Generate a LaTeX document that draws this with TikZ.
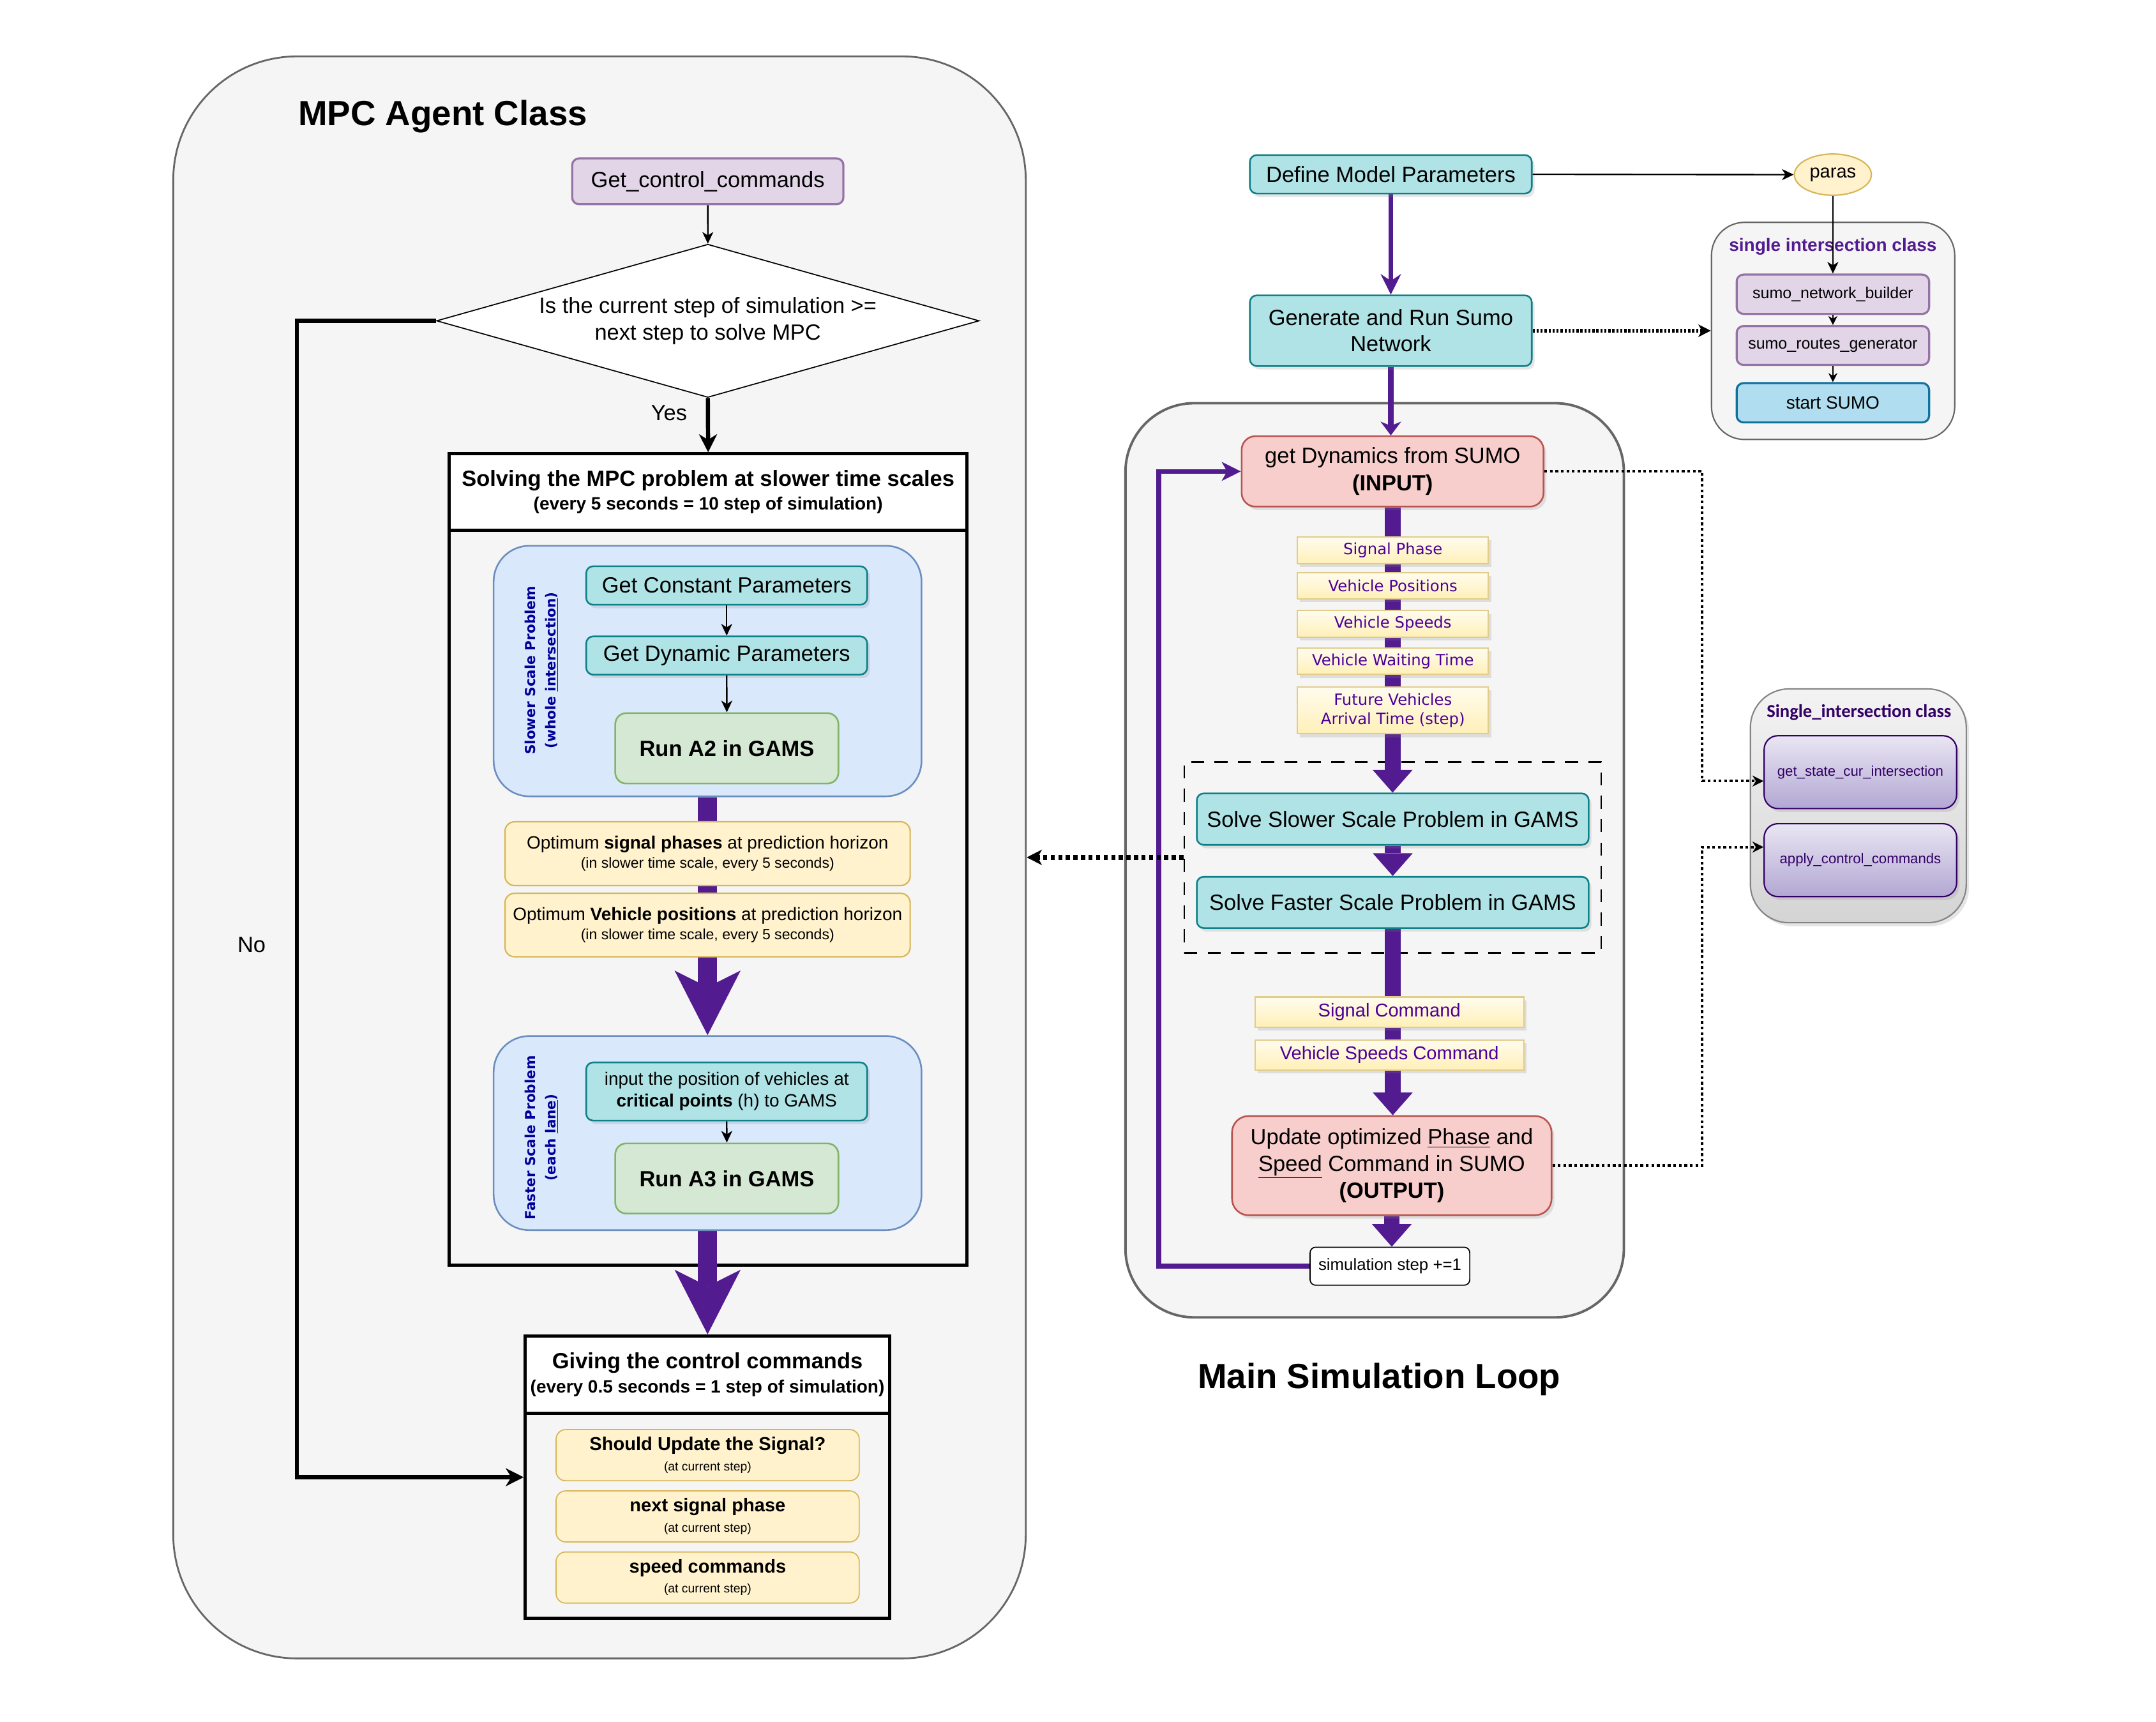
\documentclass[tikz,border=0pt]{standalone}
\usepackage{fontspec}
\setmainfont{Liberation Sans}
\newfontfamily\dejavu{DejaVu Sans}
\newfontfamily\carlito{Carlito}
\usetikzlibrary{arrows.meta,shapes.geometric,shadows,calc}
\pgfdeclarelayer{back}
\pgfdeclarelayer{bg}
\pgfsetlayers{back,bg,main}
\definecolor{cBg}{HTML}{F5F5F5}
\definecolor{cGrey}{HTML}{666666}
\definecolor{cTealF}{HTML}{B0E3E6}
\definecolor{cTealD}{HTML}{0E8088}
\definecolor{cLilF}{HTML}{E1D5E7}
\definecolor{cLilD}{HTML}{9673A6}
\definecolor{cYelF}{HTML}{FFF2CC}
\definecolor{cYelD}{HTML}{D6B656}
\definecolor{cYelTop}{HTML}{FFFCEE}
\definecolor{cYelBot}{HTML}{FFF0B8}
\definecolor{cGrnF}{HTML}{D5E8D4}
\definecolor{cGrnD}{HTML}{82B366}
\definecolor{cBluF}{HTML}{DAE8FC}
\definecolor{cBluD}{HTML}{6C8EBF}
\definecolor{cRedF}{HTML}{F8CECC}
\definecolor{cRedD}{HTML}{B85450}
\definecolor{cSkyF}{HTML}{B1DDF0}
\definecolor{cSkyD}{HTML}{10739E}
\definecolor{cPurp}{HTML}{521B90}
\definecolor{cPurpT}{HTML}{4C0099}
\definecolor{cNavy}{HTML}{000099}
\definecolor{cDPurp}{HTML}{330066}
\definecolor{cMTop}{HTML}{E9E6F3}
\definecolor{cMBot}{HTML}{B2A7D3}
\definecolor{cGTop}{HTML}{F3F3F3}
\definecolor{cGBot}{HTML}{D4D4D4}
\tikzset{
  base/.style={rectangle, inner sep=0pt, align=center, line width=1.2pt},
  shd/.style={drop shadow={opacity=0.2, shadow xshift=2pt, shadow yshift=-2.5pt}},
  container/.style={base, draw=cGrey, fill=cBg, line width=1.3pt},
  tealbox/.style={base, draw=cTealD, fill=cTealF, rounded corners=5pt, shd},
  lilbox/.style={base, draw=cLilD, fill=cLilF, rounded corners=5pt, line width=1.5pt},
  yelbox/.style={base, draw=cYelD, fill=cYelF, rounded corners=7pt, line width=1pt},
  grnbox/.style={base, draw=cGrnD, fill=cGrnF, rounded corners=8pt},
  grpbox/.style={base, draw=cBluD, fill=cBluF, rounded corners=26pt},
  redbox/.style={base, draw=cRedD, fill=cRedF, rounded corners=10pt, shd},
  databox/.style={base, draw=cYelD!70, line width=1pt, top color=cYelTop, bottom color=cYelBot, shd, text=cPurpT, minimum width=139pt, font=\dejavu\fontsize{11.3}{14}\selectfont},
  cmdbox/.style={base, draw=cYelD!70, line width=1pt, top color=cYelTop, bottom color=cYelBot, shd, text=cPurpT, font=\fontsize{13.5}{16}\selectfont},
  methbox/.style={base, draw=cDPurp, line width=1pt, top color=cMTop, bottom color=cMBot, rounded corners=10pt, minimum width=140pt, minimum height=53pt, text=cDPurp, font=\fontsize{10.3}{12}\selectfont, shd},
  vlabel/.style={rotate=90, text=cNavy, align=center, inner sep=0pt, font=\dejavu\fontsize{10}{14.5}\selectfont\bfseries},
  thinarr/.style={draw=black, line width=1.1pt, -{Stealth[length=8.5pt,width=8pt,inset=2.5pt]}},
  thinsm/.style={draw=black, line width=1pt, -{Stealth[length=6.5pt,width=6.5pt,inset=2pt]}},
  blkarr/.style={draw=black, line width=3pt, -{Stealth[length=13pt,width=13pt,inset=4pt]}},
  bigshaft/.style={draw=cPurp, line width=13.8pt, -{Stealth[length=47pt,width=48pt,inset=12pt,line width=0pt]}},
  midshaft/.style={draw=cPurp, line width=11.4pt, -{Triangle[length=16.5pt,width=29pt,line width=0pt]}},
  purpA/.style={draw=cPurp, line width=3.5pt, -{Stealth[length=15pt,width=15pt,inset=5pt,line width=0pt]}},
  purpB/.style={draw=cPurp, line width=4pt, -{Stealth[length=10pt,width=15pt,inset=3pt,line width=0pt]}},
  looparr/.style={draw=cPurp, line width=3.5pt, -{Stealth[length=14pt,width=14pt,inset=4pt,line width=0pt]}},
  dotbig/.style={draw=black, line width=3.5pt, dash pattern=on 3pt off 2.5pt, -{Stealth[length=11pt,width=11pt,inset=3pt]}},
  dotmed/.style={draw=black, line width=2.5pt, dash pattern=on 1.6pt off 1.3pt, -{Stealth[length=9pt,width=9pt,inset=2.5pt]}},
  dotthin/.style={draw=black, line width=2pt, dash pattern=on 2pt off 2pt, -{Stealth[length=8pt,width=8pt,inset=2.5pt]}}
}
\begin{document}
\begin{tikzpicture}[x=1pt,y=-1pt, font=\fontsize{16}{19.2}\selectfont]
\useasboundingbox (0,0) rectangle (1568,1252);

% ---------- back layer: containers ----------
\begin{pgfonlayer}{back}
\fill[white] (0,0) rectangle (1568,1252);
\node[container, rounded corners=90pt, minimum width=620pt, minimum height=1165pt] (mpc) at (436,623.5) {};
\node[container, rounded corners=50pt, line width=1.8pt, minimum width=362.5pt, minimum height=664.8pt] (loopc) at (999.75,625.6) {};
\node[base, draw=black, line width=2.3pt, fill=cBg, minimum width=376.5pt, minimum height=590pt] (solv) at (515,625) {};
\node[base, draw=black, line width=2.3pt, fill=white, minimum width=376.5pt, minimum height=55.5pt, anchor=north, font=\bfseries\fontsize{16}{17.5}\selectfont] (solvh) at (solv.north) {Solving the MPC problem at slower time scales\\{\fontsize{13}{17.5}\selectfont (every 5 seconds = 10 step of simulation)}};
\node[base, draw=black, dash pattern=on 9.5pt off 7.5pt, line width=1.3pt, minimum width=303.2pt, minimum height=139pt] (dbox) at (1012.9,623.5) {};
\end{pgfonlayer}

% ---------- MPC agent class ----------
\node[font=\bfseries\fontsize{25.4}{30}\selectfont] (mpct) at (322,84.5) {MPC Agent Class};
\node[lilbox, minimum width=197.3pt, minimum height=33.3pt] (gcc) at (514.75,131.85) {Get\_control\_commands};
\node[diamond, draw=black, fill=white, line width=0.8pt, inner sep=0pt, aspect=3.54, minimum width=394.6pt, minimum height=111.4pt, align=center] (dia) at (514.8,233.3) {Is the current step of simulation >=\\next step to solve MPC};
\node (yes) at (486.6,300.4) {Yes};
\node (no) at (183,687) {No};

\node[grpbox, minimum width=311.2pt, minimum height=182.2pt] (slow) at (514.6,488) {};
\node[vlabel] (slowl) at (394,487.5) {Slower Scale Problem\\(whole \underline{intersection})};
\node[tealbox, minimum width=204.3pt, minimum height=28pt] (gconst) at (528.5,425.8) {Get Constant Parameters};
\node[tealbox, minimum width=204.3pt, minimum height=27.8pt] (gdynp) at (528.5,476.7) {Get Dynamic Parameters};
\node[grnbox, minimum width=162.3pt, minimum height=51.2pt, font=\bfseries\fontsize{16}{19}\selectfont] (runa2) at (528.6,544.2) {Run A2 in GAMS};

\node[yelbox, minimum width=294.7pt, minimum height=46.4pt, font=\fontsize{13}{14}\selectfont] (opt1) at (514.6,620.8) {Optimum \textbf{signal phases} at prediction horizon\\{\fontsize{10.7}{14}\selectfont (in slower time scale, every 5 seconds)}};
\node[yelbox, minimum width=294.7pt, minimum height=46.2pt, font=\fontsize{13}{14}\selectfont] (opt2) at (514.6,672.7) {Optimum \textbf{Vehicle positions} at prediction horizon\\{\fontsize{10.7}{14}\selectfont (in slower time scale, every 5 seconds)}};

\node[grpbox, minimum width=311.2pt, minimum height=141.2pt] (fast) at (514.6,824) {};
\node[vlabel] (fastl) at (394,827.3) {Faster Scale Problem\\(each \underline{lane})};
\node[tealbox, minimum width=204.3pt, minimum height=42.3pt, font=\fontsize{13}{16}\selectfont] (inpt) at (528.5,793.75) {input the position of vehicles at\\\textbf{critical points} (h) to GAMS};
\node[grnbox, minimum width=162.3pt, minimum height=51pt, font=\bfseries\fontsize{16}{19}\selectfont] (runa3) at (528.6,857) {Run A3 in GAMS};

\node[base, draw=black, line width=2.3pt, fill=cBg, minimum width=265pt, minimum height=205.5pt] (give) at (514.5,1074.25) {};
\node[base, draw=black, line width=2.3pt, fill=white, minimum width=265pt, minimum height=56.2pt, anchor=north, font=\bfseries\fontsize{16}{17.5}\selectfont] (giveh) at (give.north) {Giving the control commands\\{\fontsize{13}{17.5}\selectfont (every 0.5 seconds = 1 step of simulation)}};
\node[yelbox, line width=0.8pt, minimum width=220.5pt, minimum height=37.2pt, font=\fontsize{13.5}{14.5}\selectfont] (gi1) at (514.65,1058.2) {\textbf{Should Update the Signal?}\\{\fontsize{9}{14.5}\selectfont (at current step)}};
\node[yelbox, line width=0.8pt, minimum width=220.5pt, minimum height=37.1pt, font=\fontsize{13.5}{14.5}\selectfont] (gi2) at (514.65,1102.75) {\textbf{next signal phase}\\{\fontsize{9}{14.5}\selectfont (at current step)}};
\node[yelbox, line width=0.8pt, minimum width=220.5pt, minimum height=37.2pt, font=\fontsize{13.5}{14.5}\selectfont] (gi3) at (514.65,1147.2) {\textbf{speed commands}\\{\fontsize{9}{14.5}\selectfont (at current step)}};

% ---------- right side top ----------
\node[tealbox, minimum width=205pt, minimum height=28pt] (def) at (1011.5,126.75) {Define Model Parameters};
\node[tealbox, minimum width=205pt, minimum height=51.4pt] (gen) at (1011.5,240.5) {Generate and Run Sumo\\Network};
\node[ellipse, draw=cYelD, fill=cYelF, line width=1pt, minimum width=56pt, minimum height=30pt, inner sep=0pt, font=\fontsize{13.5}{16}\selectfont] (paras) at (1333,127) {paras};

\node[container, rounded corners=24pt, line width=1pt, minimum width=176.9pt, minimum height=157.9pt] (sic) at (1333.15,240.65) {};
\node[text=cPurp, font=\bfseries\fontsize{13}{15}\selectfont] (sict) at (1333,179.5) {single intersection class};
\node[lilbox, minimum width=140pt, minimum height=28.6pt, font=\fontsize{11.6}{14}\selectfont] (snb) at (1333,214) {sumo\_network\_builder};
\node[lilbox, minimum width=140pt, minimum height=28.3pt, font=\fontsize{11.6}{14}\selectfont] (srg) at (1333,251.25) {sumo\_routes\_generator};
\node[base, draw=cSkyD, fill=cSkyF, rounded corners=5pt, line width=1.5pt, minimum width=140pt, minimum height=28.6pt, font=\fontsize{13}{15}\selectfont] (ssumo) at (1333,292.9) {start SUMO};

% ---------- main loop ----------
\node[redbox, minimum width=219.6pt, minimum height=51.2pt, font=\fontsize{16}{20}\selectfont] (gdyn) at (1012.8,342.8) {get Dynamics from SUMO\\\textbf{(INPUT)}};
\node[databox, minimum height=19.5pt] (dsp) at (1013,400.25) {Signal Phase};
\node[databox, minimum height=19.2pt] (dvp) at (1013,425.9) {Vehicle Positions};
\node[databox, minimum height=19.3pt] (dvs) at (1013,453.65) {Vehicle Speeds};
\node[databox, minimum height=19.2pt] (dvw) at (1013,480.9) {Vehicle Waiting Time};
\node[databox, minimum height=34.1pt] (dfv) at (1013,516.55) {Future Vehicles\\Arrival Time (step)};
\node[tealbox, minimum width=285pt, minimum height=37.4pt] (ssp) at (1012.9,595.7) {Solve Slower Scale Problem in GAMS};
\node[tealbox, minimum width=285pt, minimum height=37.3pt] (sfp) at (1012.9,656.25) {Solve Faster Scale Problem in GAMS};
\node[cmdbox, minimum width=195.5pt, minimum height=22pt] (scmd) at (1010.45,736) {Signal Command};
\node[cmdbox, minimum width=195.5pt, minimum height=21.8pt] (vscmd) at (1010.45,767.1) {Vehicle Speeds Command};
\node[redbox, rounded corners=12pt, minimum width=232.4pt, minimum height=72.1pt, font=\fontsize{16}{19.3}\selectfont] (upd) at (1012.2,847.65) {Update optimized \underline{Phase} and\\\underline{Speed} Command in SUMO\\\textbf{(OUTPUT)}};
\node[base, draw=black, fill=white, rounded corners=4pt, line width=0.8pt, minimum width=116.1pt, minimum height=27.6pt, font=\fontsize{12}{14}\selectfont] (sim) at (1010.85,920.8) {simulation step +=1};
\node[font=\bfseries\fontsize{25.4}{30}\selectfont] (mslt) at (1003,1003) {Main Simulation Loop};

% ---------- Single_intersection class ----------
\node[base, draw=cGrey!80, line width=1pt, top color=cGTop, bottom color=cGBot, rounded corners=28pt, minimum width=157pt, minimum height=170pt, shd] (si2) at (1351.5,586) {};
\node[text=cDPurp, font=\carlito\fontsize{13.3}{16}\selectfont\bfseries] (si2t) at (1352,518) {Single\_intersection class};
\node[methbox] (gsci) at (1353,561.5) {get\_state\_cur\_intersection};
\node[methbox] (acc) at (1353,625.5) {apply\_control\_commands};

% ---------- purple shafts (behind nodes) ----------
\begin{pgfonlayer}{bg}
\draw[bigshaft] (slow.south) -- (slow.south |- fast.north);
\draw[bigshaft] (fast.south) -- (fast.south |- give.north);
\draw[purpA] (def.south) -- (def.south |- gen.north);
\draw[purpB] (gen.south) -- (gen.south |- gdyn.north);
\draw[midshaft] (gdyn.south) -- (gdyn.south |- ssp.north);
\draw[midshaft] (ssp.south) -- (ssp.south |- sfp.north);
\draw[midshaft] (sfp.south) -- (sfp.south |- upd.north);
\draw[midshaft] (upd.south) -- (upd.south |- sim.north);
\draw[looparr] (sim.west) -- (842.7,920.8) |- (gdyn.west);
\end{pgfonlayer}

% ---------- black connectors ----------
\draw[thinarr] (gcc.south) -- (dia.north);
\draw[blkarr] (dia.south) -- (solvh.north);
\draw[blkarr] (dia.west) -- (216,233.3) |- (give.west);
\draw[thinarr] (gconst.south) -- (gdynp.north);
\draw[thinarr] (gdynp.south) -- (runa2.north);
\draw[thinarr] (inpt.south) -- (runa3.north);
\draw[thinarr] (def.east) -- (paras.west);
\draw[thinarr] (paras.south) -- (snb.north);
\draw[thinsm] (snb.south) -- (srg.north);
\draw[thinsm] (srg.south) -- (ssumo.north);

% ---------- dotted connectors ----------
\draw[dotmed] (gen.east) -- (gen.east -| sic.west);
\draw[dotbig] (dbox.west) -- (dbox.west -| mpc.east);
\draw[dotthin] (gdyn.east) -- (1238,342.8) |- ([yshift=-6.5pt]gsci.west);
\draw[dotthin] (upd.east) -- (1238,847.65) |- ([yshift=9.5pt]acc.west);
\end{tikzpicture}
\end{document}
